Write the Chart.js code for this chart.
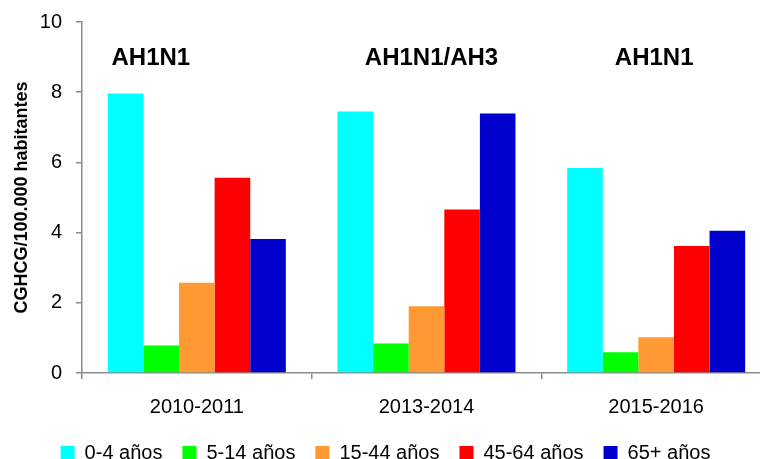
<!DOCTYPE html>
<html>
<head>
<meta charset="utf-8">
<script src="https://cdn.jsdelivr.net/npm/chart.js@4/dist/chart.umd.min.js"></script>
<style>
  html, body { margin: 0; padding: 0; background: #fff; overflow: hidden; }
  #wrap { width: 772px; height: 473px; position: relative; }
</style>
</head>
<body>
<div id="wrap"><canvas id="myChart"></canvas></div>
<script>
// temporadas y grupos de edad
const seasons = ['2010-2011', '2013-2014', '2015-2016'];
const ageGroups = ['0-4 años', '5-14 años', '15-44 años', '45-64 años', '65+ años'];
const colors = ['#00FFFF', '#00FF00', '#FF9933', '#FF0000', '#0000CC'];

// CGHCG/100.000 habitantes por grupo de edad
const age0_4 = [7.96, 7.45, 5.84];
const age5_14 = [0.78, 0.84, 0.59];
const age15_44 = [2.57, 1.90, 1.02];
const age45_64 = [5.56, 4.66, 3.62];
const age65 = [3.82, 7.39, 4.05];

// virus dominante en cada temporada
const strains = ['AH1N1', 'AH1N1/AH3', 'AH1N1'];

const yTicks = [0, 2, 4, 6, 8, 10];

const series = [age0_4, age5_14, age15_44, age45_64, age65];
const FONT = "'Liberation Sans', Arial, sans-serif";
const axisGrey = '#8c8c8c';

// etiquetas de virus encima de cada grupo
const strainLabels = {
    id: 'strainLabels',
    afterDatasetsDraw(chart) {
        const ctx = chart.ctx;
        const xs = chart.scales.x, ys = chart.scales.y;
        const shift = [-46, 5, -2];
        ctx.save();
        ctx.font = 'bold 24px ' + FONT;
        ctx.fillStyle = '#000';
        ctx.textAlign = 'center';
        ctx.textBaseline = 'middle';
        strains.forEach((s, i) => {
            ctx.fillText(s, xs.getPixelForValue(i) + shift[i], ys.getPixelForValue(8.95));
        });
        ctx.restore();
    }
};

let ct = document.getElementById('myChart').getContext('2d');
let myChart = new Chart(ct, {
    type: 'bar',
    data: {
        labels: seasons,
        datasets: ageGroups.map((g, i) => ({
            label: g,
            data: series[i],
            backgroundColor: colors[i],
            borderWidth: 0,
            categoryPercentage: 0.775,
            barPercentage: 1
        }))
    },
    options: {
        responsive: true,
        maintainAspectRatio: false,
        animation: false,
        layout: { padding: { top: 7, right: 1, left: 0, bottom: 0 } },
        scales: {
            x: {
                offset: true,
                afterFit: s => { s.height = 50; },
                grid: {
                    offset: true,
                    drawOnChartArea: false,
                    drawTicks: true,
                    tickLength: 6,
                    color: axisGrey,
                    lineWidth: 1.5
                },
                border: { color: axisGrey, width: 1.5 },
                ticks: {
                    color: '#000',
                    font: { family: FONT, size: 20 },
                    padding: 16,
                    maxRotation: 0
                }
            },
            y: {
                min: 0,
                max: 10,
                afterBuildTicks: s => { s.ticks = yTicks.map(v => ({ value: v })); },
                afterFit: s => { s.width = 82; },
                grid: {
                    drawOnChartArea: false,
                    drawTicks: true,
                    tickLength: 6,
                    color: axisGrey,
                    lineWidth: 1.5
                },
                border: { color: axisGrey, width: 1.5 },
                ticks: {
                    color: '#000',
                    font: { family: FONT, size: 20, lineHeight: 0.8 },
                    padding: 14
                },
                title: {
                    display: true,
                    text: 'CGHCG/100.000 habitantes',
                    color: '#000',
                    font: { family: FONT, size: 18, weight: 'bold' },
                    padding: { top: 11, bottom: 0 }
                }
            }
        },
        plugins: {
            legend: {
                position: 'bottom',
                labels: {
                    boxWidth: 14,
                    boxHeight: 14,
                    padding: 20,
                    color: '#000',
                    font: { family: FONT, size: 20 }
                }
            },
            tooltip: { enabled: false }
        }
    },
    plugins: [strainLabels]
});
</script>
</body>
</html>
